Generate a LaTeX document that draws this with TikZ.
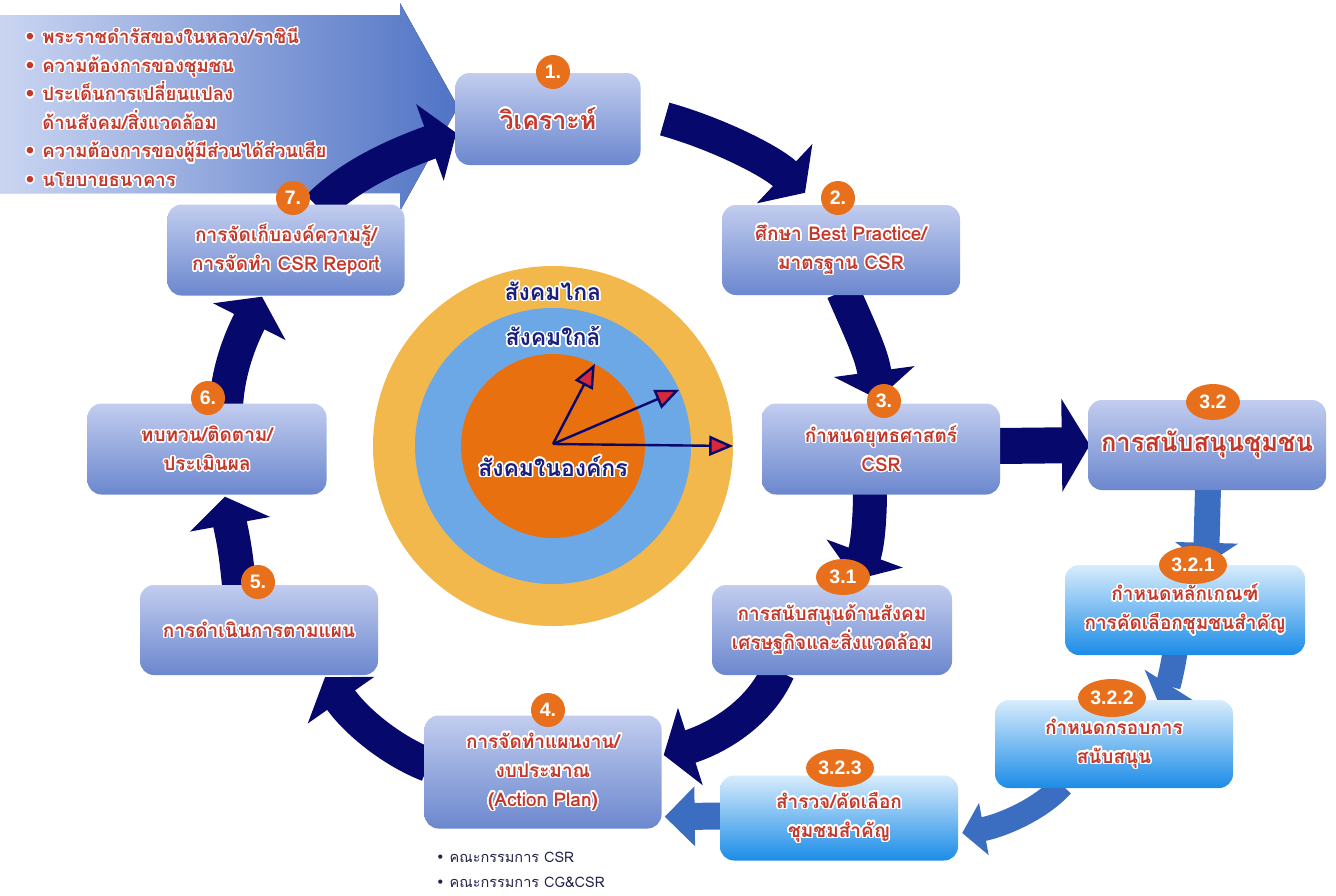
\documentclass[tikz,border=0pt]{standalone}
\usepackage{fontspec}
\setmainfont[Script=Thai]{Loma}
\newfontfamily\badgefont{Liberation Sans}
\newfontfamily\dejavu{DejaVu Sans}
\usepackage[copies]{contour}
\contournumber{24}
\contourlength{1.5pt}
\usetikzlibrary{arrows.meta,calc,shapes.geometric}
\definecolor{navy}{HTML}{07086C}
\definecolor{midblue}{HTML}{3B6DC1}
\definecolor{boxtop}{HTML}{C2CDEF}
\definecolor{boxbot}{HTML}{6B87CE}
\definecolor{cyantop}{HTML}{D8ECFC}
\definecolor{cyanbot}{HTML}{1B8CE7}
\definecolor{badgeorange}{HTML}{E8701C}
\definecolor{txtred}{HTML}{C4382C}
\definecolor{ringout}{HTML}{F2B84B}
\definecolor{ringmid}{HTML}{6CA7E6}
\definecolor{ringin}{HTML}{E9700F}
\definecolor{labnavy}{HTML}{1B1F7E}
\definecolor{bannerl}{HTML}{CAD5F1}
\definecolor{bannerm}{HTML}{8EA5DC}
\definecolor{bannerr}{HTML}{5073C5}
\definecolor{tipred}{HTML}{D8293A}
\definecolor{bottomtxt}{HTML}{23234A}
\newcommand{\wl}[1]{\contour{white}{#1}}
\newcommand{\bul}{{\dejavu •}}
\begin{document}
\begin{tikzpicture}[x=1pt,y=-1pt,
  stepbox/.style={rounded corners=14pt, top color=boxtop, bottom color=boxbot, draw=none,
    align=center, text=txtred, font=\bfseries\fontsize{19}{29}\selectfont, inner sep=0pt},
  cyanbox/.style={stepbox, top color=cyantop, bottom color=cyanbot},
  badgenode/.style={ellipse, fill=badgeorange, text=white, inner sep=0pt,
    font=\badgefont\bfseries\fontsize{19.5}{20}\selectfont},
  bigarrow/.style={draw=navy, line width=34pt, -{Triangle[length=28pt,width=80pt]}},
  blockarrow/.style={draw=navy, line width=36pt, -{Triangle[length=28pt,width=92pt]}},
  bluearrow/.style={draw=midblue, line width=26pt, -{Triangle[length=22pt,width=62pt]}},
  rayarrow/.style={draw=navy, line width=2.4pt, -{Triangle[length=24pt,width=20pt,fill=tipred]}},
  circlab/.style={text=labnavy, font=\bfseries\fontsize{23}{24}\selectfont, inner sep=0pt},
]
\useasboundingbox (0,0) rectangle (1336,895);
\fill[white] (0,0) rectangle (1336,895);

% banner
\fill[left color=bannerl, middle color=bannerm, right color=bannerr] (0,15) -- (400,15) -- (400,3) -- (458,107)
  -- (400,211) -- (400,193) -- (0,193) -- cycle;
\node[anchor=west, align=left, text=txtred, font=\bfseries\fontsize{18.5}{28.6}\selectfont, inner sep=0pt]
  (banner) at (24,108) {\wl{\bul\ พระราชดำรัสของในหลวง/ราชินี}\\
  \wl{\bul\ ความต้องการของชุมชน}\\
  \wl{\bul\ ประเด็นการเปลี่ยนแปลง}\\
  \hphantom{\bul\ }\wl{ด้านสังคม/สิ่งแวดล้อม}\\
  \wl{\bul\ ความต้องการของผู้มีส่วนได้ส่วนเสีย}\\
  \wl{\bul\ นโยบายธนาคาร}};

% circles
\node[circle, fill=ringout, minimum size=360pt, inner sep=0pt] (outerc) at (553,446) {};
\node[circle, fill=ringmid, minimum size=276pt, inner sep=0pt] (midc) at (553,446) {};
\node[circle, fill=ringin, minimum size=184pt, inner sep=0pt] (innerc) at (553,446) {};
\coordinate (org) at ($(innerc.center)+(0,-2)$);
\draw[rayarrow] (org) -- (innerc.63);
\draw[rayarrow] (org) -- (midc.24);
\draw[rayarrow] (org) -- (outerc.0);
\node[circlab] (farlab) at (553,292) {\wl{สังคมไกล}};
\node[circlab] (nearlab) at (553,337) {\wl{สังคมใกล้}};
\node[circlab] (inlab) at (553,467) {\wl{สังคมในองค์กร}};

% box positions
\coordinate (p1) at (548,119);
\coordinate (p2) at (841,250);
\coordinate (p3) at (881,449);
\coordinate (p32) at (1207,445);
\coordinate (p31) at (832,630);
\coordinate (p321) at (1185,610);
\coordinate (p322) at (1114,744);
\coordinate (p323) at (839,818);
\coordinate (p4) at (543,772);
\coordinate (p5) at (259,630);
\coordinate (p6) at (207,449);
\coordinate (p7) at (286,250);

% invisible placeholders to get anchors before arrows
\path node[minimum width=185pt, minimum height=92pt, inner sep=0pt] (b1) at (p1) {}
  node[minimum width=238pt, minimum height=90pt, inner sep=0pt] (b2) at (p2) {}
  node[minimum width=238pt, minimum height=91pt, inner sep=0pt] (b3) at (p3) {}
  node[minimum width=238pt, minimum height=90pt, inner sep=0pt] (b32) at (p32) {}
  node[minimum width=240pt, minimum height=90pt, inner sep=0pt] (b31) at (p31) {}
  node[minimum width=240pt, minimum height=90pt, inner sep=0pt] (b321) at (p321) {}
  node[minimum width=238pt, minimum height=88pt, inner sep=0pt] (b322) at (p322) {}
  node[minimum width=238pt, minimum height=85pt, inner sep=0pt] (b323) at (p323) {}
  node[minimum width=237pt, minimum height=113pt, inner sep=0pt] (b4) at (p4) {}
  node[minimum width=238pt, minimum height=90pt, inner sep=0pt] (b5) at (p5) {}
  node[minimum width=239pt, minimum height=91pt, inner sep=0pt] (b6) at (p6) {}
  node[minimum width=237pt, minimum height=91pt, inner sep=0pt] (b7) at (p7) {};

% big cycle arrows
\draw[bigarrow] ($(b1.east)+(24,0)$) .. controls (715,133) and (770,160) .. ($(b2.north)+(-36,-12)$);
\draw[bigarrow] ($(b2.south)+(2,-4)$) .. controls (860,330) and (872,355) .. ($(b3.north)+(-3,-4)$);
\draw[bigarrow] ($(b3.south)+(-11,-5)$) .. controls (870,530) and (866,550) .. ($(b31.north)+(23,-5)$);
\draw[bigarrow] ($(b31.south)+(-54,-4)$) .. controls (760,712) and (720,737) .. ($(b4.east)+(2,-17)$);
\draw[bigarrow] ($(b4.west)+(4,-7)$) .. controls (390,750) and (355,720) .. ($(b5.south)+(66,2)$);
\draw[bigarrow] ($(b5.south)+(-15,-6)$) .. controls (240,560) and (232,535) .. ($(b6.south)+(18,2)$);
\draw[bigarrow] ($(b6.north)+(19,3)$) .. controls (228,370) and (240,340) .. ($(b7.south)+(-24,1)$);
\draw[bigarrow] ($(b7.north)+(32,3)$) .. controls (350,175) and (395,155) .. ($(b1.west)+(1,14)$);
\draw[blockarrow] ($(b3.east)+(-2,-3)$) -- ($(b32.west)+(2,0)$);

% community arrows
\draw[bluearrow] ($(b32.south)+(1,-3)$) -- ($(b321.north)+(21,0)$);
\draw[bluearrow, line width=25pt, -{Triangle[length=20pt,width=56pt]}]
  ($(b321.south)+(-10,-3)$) .. controls (1172,672) and (1168,686) .. ($(b322.north)+(44,2)$);
\draw[bluearrow, line width=24pt, -{Triangle[length=22pt,width=52pt]}]
  ($(b322.south)+(-52,-3)$) .. controls (1040,810) and (1000,826) .. ($(b323.east)+(4,15)$);
\draw[bluearrow, line width=27pt, -{Triangle[length=30pt,width=58pt]}]
  ($(b323.west)+(2,-2)$) -- ($(b4.south east)+(3,-12)$);

% visible boxes
\node[stepbox, minimum width=185pt, minimum height=92pt, font=\bfseries\fontsize{25}{30}\selectfont] at (p1) {\wl{วิเคราะห์}};
\node[stepbox, minimum width=238pt, minimum height=90pt] at (p2) {\wl{ศึกษา Best Practice/}\\\wl{มาตรฐาน CSR}};
\node[stepbox, minimum width=238pt, minimum height=91pt] at (p3) {\wl{กำหนดยุทธศาสตร์}\\\wl{CSR}};
\node[stepbox, minimum width=238pt, minimum height=90pt, font=\bfseries\fontsize{25.5}{30}\selectfont] at (p32) {\wl{การสนับสนุนชุมชน}};
\node[stepbox, minimum width=240pt, minimum height=90pt] at (p31) {\wl{การสนับสนุนด้านสังคม}\\\wl{เศรษฐกิจและสิ่งแวดล้อม}};
\node[cyanbox, minimum width=240pt, minimum height=90pt] at (p321) {\wl{กำหนดหลักเกณฑ์}\\\wl{การคัดเลือกชุมชนสำคัญ}};
\node[cyanbox, minimum width=238pt, minimum height=88pt] at (p322) {\wl{กำหนดกรอบการ}\\\wl{สนับสนุน}};
\node[cyanbox, minimum width=238pt, minimum height=85pt] at (p323) {\wl{สำรวจ/คัดเลือก}\\\wl{ชุมชมสำคัญ}};
\node[stepbox, minimum width=237pt, minimum height=113pt] at (p4) {\wl{การจัดทำแผนงาน/}\\\wl{งบประมาณ}\\\wl{(Action Plan)}};
\node[stepbox, minimum width=238pt, minimum height=90pt] at (p5) {\wl{การดำเนินการตามแผน}};
\node[stepbox, minimum width=239pt, minimum height=91pt] at (p6) {\wl{ทบทวน/ติดตาม/}\\\wl{ประเมินผล}};
\node[stepbox, minimum width=237pt, minimum height=91pt] at (p7) {\wl{การจัดเก็บองค์ความรู้/}\\\wl{การจัดทำ CSR Report}};

% badges
\node[badgenode, minimum width=34pt, minimum height=34pt] (n1) at (553,72) {1.};
\node[badgenode, minimum width=34pt, minimum height=34pt] (n2) at (838,198) {2.};
\node[badgenode, minimum width=34pt, minimum height=34pt] (n3) at (884,401) {3.};
\node[badgenode, minimum width=54pt, minimum height=36pt] (n32) at (1213,402) {3.2};
\node[badgenode, minimum width=54pt, minimum height=36pt] (n31) at (843,577) {3.1};
\node[badgenode, minimum width=68pt, minimum height=38pt] (n321) at (1193,565) {3.2.1};
\node[badgenode, minimum width=68pt, minimum height=38pt] (n322) at (1112,698) {3.2.2};
\node[badgenode, minimum width=68pt, minimum height=38pt] (n323) at (840,768) {3.2.3};
\node[badgenode, minimum width=34pt, minimum height=34pt] (n4) at (548,710) {4.};
\node[badgenode, minimum width=34pt, minimum height=34pt] (n5) at (258,582) {5.};
\node[badgenode, minimum width=34pt, minimum height=34pt] (n6) at (208,398) {6.};
\node[badgenode, minimum width=34pt, minimum height=34pt] (n7) at (293,198) {7.};

% committee list
\node[anchor=west, text=bottomtxt, font=\fontsize{14.5}{15}\selectfont, inner sep=0pt] (c1) at (436,857) {\bul\ คณะกรรมการ CSR};
\node[anchor=west, text=bottomtxt, font=\fontsize{14.5}{15}\selectfont, inner sep=0pt] (c2) at (436,882) {\bul\ คณะกรรมการ CG\&CSR};
\end{tikzpicture}
\end{document}
